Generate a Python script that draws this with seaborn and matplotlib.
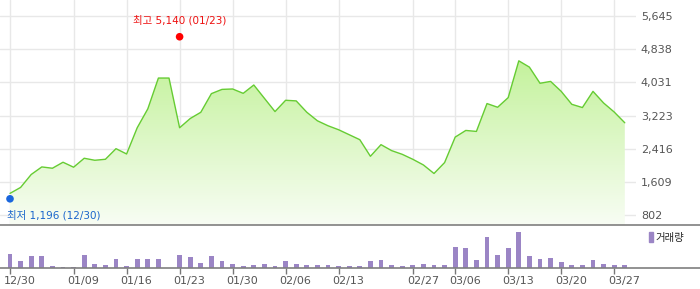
import numpy as np
import pandas as pd
import matplotlib
matplotlib.use("Agg")
import matplotlib.pyplot as plt
import matplotlib.transforms as mtransforms
import seaborn as sns
from matplotlib.colors import LinearSegmentedColormap
from matplotlib.patches import Patch

# ---------------- data ----------------
price = [1328, 1473, 1788, 1972, 1940, 2086, 1965, 2183, 2134, 2158,
         2416, 2287, 2925, 3385, 4135, 4135, 2925, 3150, 3302, 3756,
         3859, 3869, 3763, 3966, 3642, 3319, 3594, 3579, 3303, 3095,
         2974, 2877, 2756, 2635, 2231, 2514, 2369, 2279, 2158, 2020,
         1812, 2078, 2698, 2860, 2836, 3514, 3424, 3659, 4554, 4401,
         4008, 4053, 3811, 3496, 3417, 3811, 3528, 3308, 3046]
volume = [14, 7, 12, 12, 2, 1, 1, 13, 4, 3,
          9, 2, 9, 9, 9, 0, 13, 11, 5, 12,
          7, 4, 2, 3, 4, 2, 7, 4, 3, 3,
          3, 2, 2, 2, 7, 8, 3, 2, 3, 4,
          3, 3, 21, 20, 8, 31, 13, 20, 36, 12,
          9, 10, 6, 3, 3, 8, 4, 3, 3]
tick_pos = [0, 6, 11, 16, 21, 26, 31, 38, 42, 47, 52, 57]
tick_labels = ["12/30", "01/09", "01/16", "01/23", "01/30", "02/06",
               "02/13", "02/27", "03/06", "03/13", "03/20", "03/27"]
y_ticks = [802, 1609, 2416, 3223, 4031, 4838, 5645]
high_idx, high_val, high_date = 16, 5140, "01/23"
low_idx, low_val, low_date = 0, 1196, "12/30"
legend_label = "거래량"

idx = np.arange(len(price))
df = pd.DataFrame({"idx": idx, "price": price, "volume": volume})

# ---------------- style ----------------
sns.set_theme(style="white")
plt.rcParams["font.family"] = ["DejaVu Sans", "Noto Sans CJK KR"]

W, H = 700, 289
fig = plt.figure(figsize=(W / 100, H / 100), dpi=100)

def fx(px):
    return px / W

def fy(py):
    return 1 - py / H

step = 10.6
x_left = -10 / step

# price axes: x 0..636 px, y 0..225 px
ax = fig.add_axes([0, fy(225), fx(636), 225 / H])
slope = 24.34
ymin = 802 - 10 * slope
ymax = 5645 + 16 * slope
xr = (636 - 10) / step

line_c = "#66cc33"
sns.lineplot(data=df, x="idx", y="price", ax=ax, color=line_c, linewidth=1.0, zorder=3)
poly = ax.fill_between(idx, price, ymin, color="none", linewidth=0)
cmap = LinearSegmentedColormap.from_list("g", ["#f8fdf4", "#c4f29c"])
grad = np.linspace(0, 1, 256).reshape(-1, 1)
im = ax.imshow(grad, extent=[idx[0], idx[-1], ymin, max(price)], aspect="auto",
               cmap=cmap, origin="lower", zorder=2, interpolation="bilinear")
im.set_clip_path(poly.get_paths()[0], transform=ax.transData)

ax.set_xlim(x_left, xr)
ax.set_ylim(ymin, ymax)
ax.set_xticks(tick_pos)
ax.set_xticklabels([])
ax.set_yticks(y_ticks)
ax.yaxis.tick_right()
ax.set_yticklabels([f"{v:,}" for v in y_ticks], color="#555555", fontsize=8)
ax.tick_params(axis="y", length=0, pad=3.5)
ax.tick_params(axis="x", length=0)
ax.grid(True, color="#e8e8e8", linewidth=1)
ax.set_axisbelow(True)
for s in ax.spines.values():
    s.set_visible(False)
ax.set_xlabel("")
ax.set_ylabel("")
ax.patch.set_alpha(0)

# high / low markers
sns.scatterplot(x=[high_idx], y=[high_val], ax=ax, color="#ff0000", s=30,
                edgecolor="none", zorder=5, legend=False)
sns.scatterplot(x=[low_idx], y=[low_val], ax=ax, color="#1a66dd", s=30,
                edgecolor="none", zorder=5, legend=False)
ax.annotate(f"최고 {high_val:,} ({high_date})", (high_idx, high_val),
            xytext=(0, 12), textcoords="offset points", ha="center", va="center",
            color="#ee1111", fontsize=7.5)
ax.annotate(f"최저 {low_val:,} ({low_date})", (low_idx, low_val),
            xytext=(-2.5, -12), textcoords="offset points", ha="left", va="center",
            color="#1a66cc", fontsize=7.5)

# volume axes: full width, y 225..268 px
axv = fig.add_axes([0, fy(268), 1, 43 / H])
vol_c = "#9b85c5"
sns.barplot(data=df, x="idx", y="volume", ax=axv, native_scale=True,
            color=vol_c, width=0.47, saturation=1, edgecolor="none")
axv.set_xlim(x_left, (W - 10) / step)
axv.set_ylim(0, 43)
axv.set_yticks([])
axv.set_xticks(tick_pos)
axv.set_xticklabels(tick_labels, color="#555555", fontsize=8)
axv.tick_params(axis="x", length=4, width=1, color="#777777", pad=2, bottom=True)
offset = mtransforms.ScaledTranslation(-6 / 100, 0, fig.dpi_scale_trans)
for lbl in axv.get_xticklabels():
    lbl.set_horizontalalignment("left")
    lbl.set_transform(lbl.get_transform() + offset)
for k in ["left", "right"]:
    axv.spines[k].set_visible(False)
for k in ["top", "bottom"]:
    axv.spines[k].set_color("#7f7f7f")
    axv.spines[k].set_linewidth(1.2)
axv.set_xlabel("")
axv.set_ylabel("")
axv.grid(False)
axv.patch.set_alpha(0)
axv.legend(handles=[Patch(color=vol_c)], labels=[legend_label], loc="upper right",
           bbox_to_anchor=(fx(692), 1.0), frameon=False, fontsize=7.5,
           handlelength=0.35, handleheight=1.0, handletextpad=0.3,
           borderaxespad=0.3)

fig.savefig("out.png", dpi=100)
